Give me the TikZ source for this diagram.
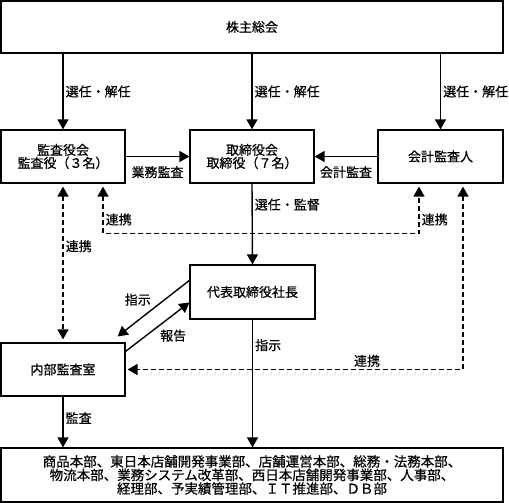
\documentclass[tikz,border=0pt]{standalone}
\usepackage{fontspec}
\setmainfont{Noto Sans CJK JP}[FakeBold=0.6]
\usetikzlibrary{arrows.meta}

\tikzset{
  box/.style={draw, line width=1.2pt, align=center, inner sep=0pt, minimum height=53pt, font=\fontsize{13}{13}\selectfont},
  arr/.style={line width=1.4pt, -{Triangle[width=11pt,length=10pt]}},
  link/.style={line width=1.4pt, dash pattern=on 5pt off 3pt, {Triangle[width=11pt,length=10pt]}-{Triangle[width=11pt,length=10pt]}},
  lbl/.style={font=\fontsize{13}{13}\selectfont, inner sep=2pt}
}

\begin{document}
\begin{tikzpicture}[x=1pt,y=-1pt]
    \useasboundingbox (0,0) rectangle (509,503);

    \node[box, minimum width=502pt, minimum height=52pt] (soukai) at (252,27) {株主総会};

    \node[box, minimum width=124pt] (kansayaku) at (63,156.5) {監査役会\\監査役（３名）};
    \node[box, minimum width=124pt] (torishimari) at (252,156.5) {取締役会\\取締役（７名）};
    \node[box, minimum width=125pt] (kaikei) at (440.5,156.5) {会計監査人};

    \node[box, minimum width=125pt, minimum height=54pt] (shacho) at (252.5,292) {代表取締役社長};
    \node[box, minimum width=124pt] (naibu) at (63,369.5) {内部監査室};

    \node[box, minimum width=502pt, minimum height=54pt, font=\fontsize{13.5}{12.5}\selectfont] (bumon) at (252,475) {商品本部、東日本店舗開発事業部、店舗運営本部、総務・法務本部、\\物流本部、業務システム改革部、西日本店舗開発事業部、人事部、\\経理部、予実績管理部、ＩＴ推進部、ＤＢ部};

    % selection by the shareholders
    \draw[arr] (kansayaku.north |- soukai.south) -- node[lbl, right]{選任・解任} (kansayaku.north);
    \draw[arr] (torishimari.north |- soukai.south) -- node[lbl, right]{選任・解任} (torishimari.north);
    \draw[arr] (kaikei.north |- soukai.south) -- node[lbl, right]{選任・解任} (kaikei.north);

    \draw[arr] (kansayaku.east) -- node[lbl, below=7pt]{業務監査} (torishimari.west);
    \draw[arr] (kaikei.west) -- node[lbl, below=7pt]{会計監査} (torishimari.east);

    \draw[arr] (torishimari.south) -- node[lbl, right, pos=0.26]{選任・監督} (shacho.north);
    \draw[arr] (shacho.south) -- node[lbl, right, pos=0.2]{指示} (shacho.south |- bumon.north);
    \draw[arr] (naibu.south) -- node[lbl, right, pos=0.42]{監査} (naibu.south |- bumon.north);

    \draw[arr] ([yshift=-16pt]shacho.north west) -- node[lbl, above left]{指示} ([xshift=-8pt,yshift=6pt]naibu.north east);
    \draw[arr] ([yshift=-9pt]naibu.north east) -- node[lbl, below right]{報告} ([yshift=-38pt]shacho.north west);

    % cooperation
    \draw[link] ([yshift=-3pt]kansayaku.south) -- node[lbl, right, pos=0.39]{連携} ([yshift=3pt]naibu.north);
    \draw[link] ([xshift=40pt,yshift=-3pt]kansayaku.south) -- node[lbl, right, pos=0.7]{連携} ++(0,47)
        -| node[lbl, right, pos=0.65]{連携} ([xshift=-21.5pt,yshift=-3pt]kaikei.south);
    \draw[link] ([xshift=22.5pt,yshift=-3pt]kaikei.south) |- node[lbl, above, pos=0.643]{連携} ([xshift=2pt]naibu.east);
\end{tikzpicture}
\end{document}
